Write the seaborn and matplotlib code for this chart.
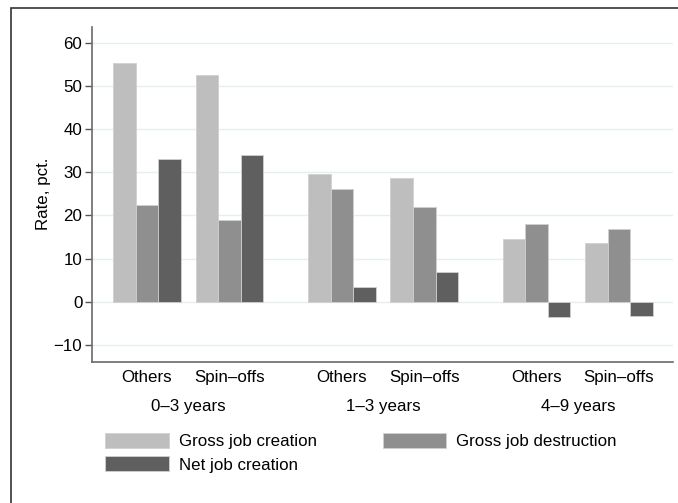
import matplotlib
matplotlib.use("Agg")
import matplotlib.pyplot as plt
import seaborn as sns
import pandas as pd
from matplotlib.patches import Rectangle, Patch

# Data
age_groups = ["0–3 years", "1–3 years", "4–9 years"]
firm_types = ["Others", "Spin–offs"]
series = ["Gross job creation", "Gross job destruction", "Net job creation"]
gross_creation = [55.3, 52.6, 29.5, 28.6, 14.5, 13.7]
gross_destruction = [22.3, 18.9, 26.2, 21.9, 18.1, 16.9]
net_creation = [33.1, 33.9, 3.5, 6.8, -3.6, -3.3]
y_ticks = [-10, 0, 10, 20, 30, 40, 50, 60]

colors = ["#bebebe", "#8f8f8f", "#5f5f5f"]
group_step = 2.364  # distance between age groups, in units of the firm-type spacing
FS = 12.2

rows = []
values = [gross_creation, gross_destruction, net_creation]
for s_name, vals in zip(series, values):
    for i, v in enumerate(vals):
        g, t = divmod(i, len(firm_types))
        rows.append({"pos": g * group_step + t, "series": s_name, "rate": v,
                     "group": age_groups[g], "type": firm_types[t]})
df = pd.DataFrame(rows)

sns.set_theme(style="white")
plt.rcParams["font.family"] = ["Liberation Sans", "DejaVu Sans"]
plt.rcParams["text.color"] = "black"
plt.rcParams["axes.labelcolor"] = "black"
plt.rcParams["xtick.color"] = "black"
plt.rcParams["ytick.color"] = "black"

fig = plt.figure(figsize=(6.78, 5.03), dpi=100)
ax = fig.add_axes([92 / 678, 1 - 362 / 503, (673 - 92) / 678, (362 - 26.5) / 503])

sns.barplot(data=df, x="pos", y="rate", hue="series", hue_order=series,
            palette=colors, native_scale=True, width=0.82, ax=ax,
            edgecolor="none", linewidth=0, errorbar=None, legend=False)

# Light outline on bars
for p in ax.patches:
    p.set_edgecolor("#d0d0d0")
    p.set_linewidth(0.6)

ax.set_ylim(-14, 63.8)
ax.set_xlim(-0.667, 5.727 + 0.655)
ax.set_yticks(y_ticks)
ax.set_yticklabels([f"{t}".replace("-", "−") for t in y_ticks], fontsize=FS)
ax.yaxis.grid(True, color="#e6eff0", linewidth=1.0)
ax.set_axisbelow(True)

tick_pos = sorted(df["pos"].unique())
ax.set_xticks(tick_pos)
ax.set_xticklabels(firm_types * len(age_groups), fontsize=FS)
ax.tick_params(axis="x", length=0, pad=6)
ax.tick_params(axis="y", length=5, width=1, color="#555555", left=True, pad=2)
ax.tick_params(axis="y", colors="black", color="#555555")
ax.set_xlabel("")
ax.set_ylabel("Rate, pct.", fontsize=FS, labelpad=2)

for side in ["top", "right"]:
    ax.spines[side].set_visible(False)
for side in ["left", "bottom"]:
    ax.spines[side].set_color("#6a6a6a")
    ax.spines[side].set_linewidth(1.2)

# Age group labels under each pair of bars
for g, name in enumerate(age_groups):
    center = g * group_step + 0.5
    ax.text(center, -0.133, name, transform=ax.get_xaxis_transform(),
            ha="center", va="center", fontsize=FS)

# Legend: first column creation and net, second column destruction
order = [0, 2, 1]
handles = [Patch(facecolor=colors[i], edgecolor="#d0d0d0", linewidth=0.6) for i in order]
labels = [series[i] for i in order]
fig.legend(handles, labels, loc="upper left", bbox_to_anchor=(105 / 678, 1 - 433 / 503),
           ncol=2, frameon=False, fontsize=FS, handlelength=3.75, handleheight=1.0,
           handletextpad=0.6, columnspacing=3.9, labelspacing=0.4,
           borderpad=0, borderaxespad=0)

# Outer frame
fig.patches.append(Rectangle((11 / 678, -0.1), 1.2, 1.1 - 8 / 503,
                             transform=fig.transFigure, fill=False,
                             edgecolor="#333333", linewidth=1.2))

fig.savefig("out.png", dpi=100)
